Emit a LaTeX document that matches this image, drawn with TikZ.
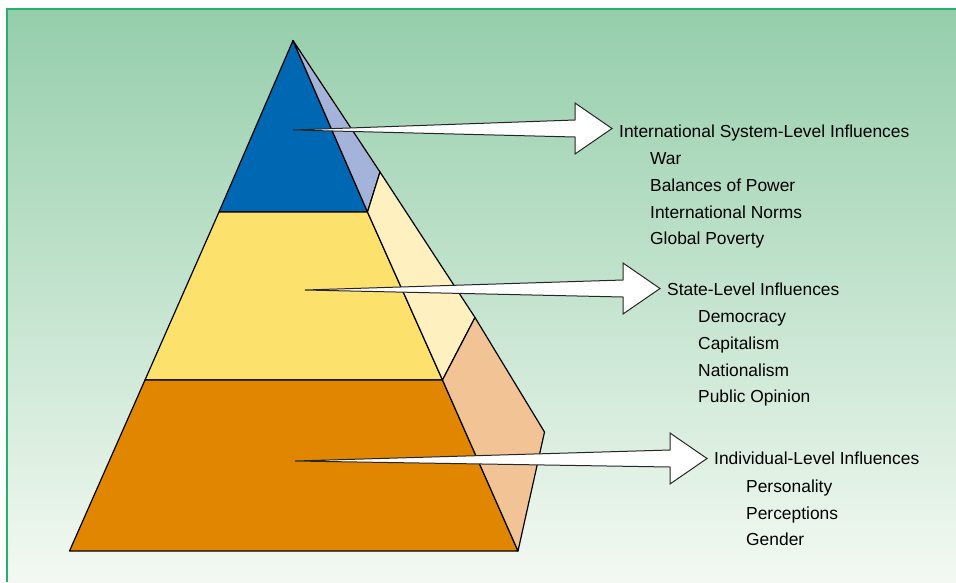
\documentclass[tikz,border=0pt]{standalone}
\usepackage{fontspec}
\setmainfont{Liberation Sans}
\usetikzlibrary{calc}

\definecolor{bgtop}{HTML}{95CEAB}
\definecolor{bgbot}{HTML}{F3F9F2}
\definecolor{frame}{HTML}{2AAE70}
\definecolor{blueF}{HTML}{0067B3}
\definecolor{blueS}{HTML}{A3B3D9}
\definecolor{yelF}{HTML}{FCE16C}
\definecolor{yelS}{HTML}{FFF0C0}
\definecolor{orF}{HTML}{E08600}
\definecolor{orS}{HTML}{F2C495}

\tikzset{
  face/.style={draw=black, line width=1.2pt, line join=round},
  fatarrow/.style={draw=black!85, fill=white, line width=1pt, line join=miter},
  head/.style={anchor=base west, inner sep=0pt, font=\fontsize{17.4}{20}\selectfont},
  item/.style={head},
}

\begin{document}
\begin{tikzpicture}[x=1pt, y=-1pt]
  \useasboundingbox (0,0) rectangle (956,582);
  \fill[white] (0,0) rectangle (956,582);

  % background panel with a vertical gradient
  \shade[top color=bgtop, bottom color=bgbot] (7,9) rectangle (956,582);
  \draw[frame, line width=1.6pt] (7,582) -- (7,9) -- (956,9);

  % pyramid corners
  \coordinate (apex) at (293,40.5);
  \coordinate (l1) at (219,212);   \coordinate (r1) at (367.5,212);
  \coordinate (l2) at (145,380);   \coordinate (r2) at (442.5,380);
  \coordinate (l3) at (69.5,551);  \coordinate (r3) at (518,551);
  \coordinate (s1) at (380,172);
  \coordinate (s2) at (475,317.5);
  \coordinate (s3) at (544.5,432);

  % front faces
  \draw[face, fill=blueF] (apex) -- (r1) -- (l1) -- cycle;
  \draw[face, fill=yelF] (l1) -- (r1) -- (r2) -- (l2) -- cycle;
  \draw[face, fill=orF] (l2) -- (r2) -- (r3) -- (l3) -- cycle;

  % side faces
  \draw[face, fill=blueS] (apex) -- (s1) -- (r1) -- cycle;
  \draw[face, fill=yelS] (r1) -- (s1) -- (s2) -- (r2) -- cycle;
  \draw[face, fill=orS] (r2) -- (s2) -- (s3) -- (r3) -- cycle;

  % arrow ends
  \coordinate (tail1) at (293,130);  \coordinate (tip1) at (612,128.5);
  \coordinate (tail2) at (305,290);  \coordinate (tip2) at (660,288.5);
  \coordinate (tail3) at (295,461);  \coordinate (tip3) at (707,458.5);

  \foreach \t/\h in {tail1/tip1, tail2/tip2, tail3/tip3}{
    \draw[fatarrow] (\t)
      -- ($(\h)+(-37,-8.5)$) -- ($(\h)+(-37,-25.5)$)
      -- (\h)
      -- ($(\h)+(-37,25.5)$) -- ($(\h)+(-37,8.5)$)
      -- cycle;
  }

  % labels
  \node[head] (sys)  at (619,137) {International System-Level Influences};
  \node[item] (sys1) at (650,164.5) {War};
  \node[item] (sys2) at (650,191.5) {Balances of Power};
  \node[item] (sys3) at (650,218) {International Norms};
  \node[item] (sys4) at (650,244.5) {Global Poverty};

  \node[head] (st)  at (667,295) {State-Level Influences};
  \node[item] (st1) at (698,322.5) {Democracy};
  \node[item] (st2) at (698,349.5) {Capitalism};
  \node[item] (st3) at (698,376) {Nationalism};
  \node[item] (st4) at (698,402.5) {Public Opinion};

  \node[head] (ind)  at (714,464.5) {Individual-Level Influences};
  \node[item] (ind1) at (746,492.5) {Personality};
  \node[item] (ind2) at (746,519) {Perceptions};
  \node[item] (ind3) at (746,545.5) {Gender};
\end{tikzpicture}
\end{document}
